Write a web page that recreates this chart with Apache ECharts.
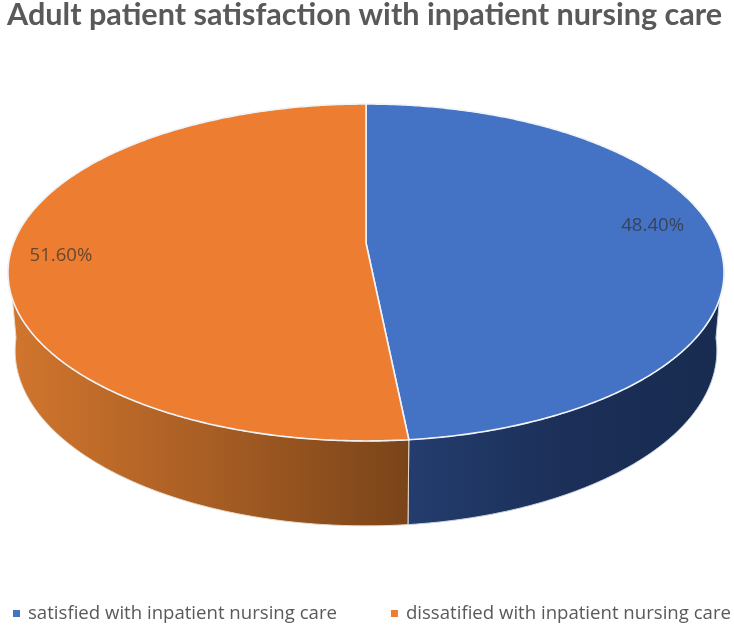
<!DOCTYPE html>
<html>
<head>
<meta charset="utf-8">
<style>
  html, body { margin: 0; padding: 0; background: #fff; }
  #container { width: 734px; height: 632px; filter: blur(0.4px); }
</style>
<script src="https://cdn.jsdelivr.net/npm/echarts@6/dist/echarts.min.js"></script>
</head>
<body>
<div id="container"></div>
<script>
var categories = ["satisfied with inpatient nursing care", "dissatified with inpatient nursing care"];
var shares = [48.4, 51.6];
var shareLabels = ["48.40%", "51.60%"];
var topColors = ["#4472C4", "#ED7D31"];
var wallColors = [
  ["#243D6E", "#1B2F58", "#182B50"],
  ["#D2762E", "#A85E24", "#7A4419"]
];

// perspective pie, pie centre is higher up than the ellipse centre
var cx = 366, cy = 243;
var rx = 352.5, ry = 163.3, tilt = 0.175;
var depth = 77, bottomScaleX = 0.98, bottomScaleY = 1.04;
var labelRadius = [0.82, 0.86];
var labelShift = [[0, -11], [0, 6]];

var dom = document.getElementById("container");
var myChart = echarts.init(dom);

// theta is clockwise from the back of the pie, in degrees
function project(theta, f, dy, scaleX, scaleY) {
  var a = theta * Math.PI / 180;
  var u = f * Math.sin(a);
  var v = -f * Math.cos(a);
  var d = 1 - tilt * v;
  return [cx + scaleX * rx * u / d, cy + dy + scaleY * ry * v / d];
}

function arcPoints(from, to, f, dy, scaleX, scaleY) {
  var pts = [];
  var n = Math.max(2, Math.ceil(Math.abs(to - from) * 2));
  for (var i = 0; i <= n; i++) {
    pts.push(project(from + (to - from) * i / n, f, dy, scaleX, scaleY));
  }
  return pts;
}

function renderSlice(params, api) {
  var i = params.seriesIndex;
  var from = api.value(0) * 3.6;
  var to = api.value(1) * 3.6;
  var children = [];

  // only the front part of the side can be seen
  var wallFrom = Math.max(from, 96);
  var wallTo = Math.min(to, 264);
  var stops = wallColors[i];
  children.push({
    type: "polygon",
    z2: 1,
    shape: {
      points: arcPoints(wallFrom, wallTo, 1, 0, 1, 1)
        .concat(arcPoints(wallTo, wallFrom, 1, depth, bottomScaleX, bottomScaleY))
    },
    style: {
      fill: {
        type: "linear", x: 0, y: 0, x2: 1, y2: 0,
        colorStops: [
          { offset: 0, color: stops[0] },
          { offset: 0.5, color: stops[1] },
          { offset: 1, color: stops[2] }
        ]
      },
      stroke: i == 0 ? "#C9D3E2" : "#E9D9C8",
      lineWidth: 1
    }
  });

  children.push({
    type: "polygon",
    z2: 2,
    shape: { points: [[cx, cy]].concat(arcPoints(from, to, 1, 0, 1, 1)) },
    style: { fill: topColors[i], stroke: "#F0F3F7", lineWidth: 1.6 }
  });

  var mid = project((from + to) / 2, labelRadius[i], 0, 1, 1);
  children.push({
    type: "text",
    z2: 3,
    style: {
      x: mid[0] + labelShift[i][0],
      y: mid[1] + labelShift[i][1],
      text: shareLabels[i],
      align: "center",
      verticalAlign: "middle",
      fill: "rgba(50,50,50,0.72)",
      font: "18.6px 'Open Sans'"
    }
  });

  return { type: "group", children: children };
}

var series = [];
var running = 0;
for (var i = 0; i < categories.length; i++) {
  series.push({
    name: categories[i],
    type: "custom",
    coordinateSystem: "none",
    renderItem: renderSlice,
    itemStyle: { color: topColors[i] },
    silent: true,
    data: [[running, running + shares[i]]]
  });
  running += shares[i];
}

var option = {
  animation: false,
  title: {
    text: "Adult patient satisfaction with inpatient nursing care",
    left: 7,
    top: 0,
    padding: 0,
    textStyle: { fontFamily: "Lato", fontWeight: "bold", fontSize: 30.6, color: "#595959" }
  },
  legend: {
    data: categories,
    left: 13,
    top: 604,
    padding: 0,
    icon: "rect",
    itemWidth: 7,
    itemHeight: 7,
    itemGap: 54,
    selectedMode: false,
    formatter: function (name) { return "{t|" + name + "}"; },
    textStyle: {
      rich: {
        t: { fontFamily: "Open Sans", fontSize: 18.6, color: "#595959", padding: [0, 0, 0, 3] }
      }
    }
  },
  series: series
};

myChart.setOption(option);
</script>
</body>
</html>
